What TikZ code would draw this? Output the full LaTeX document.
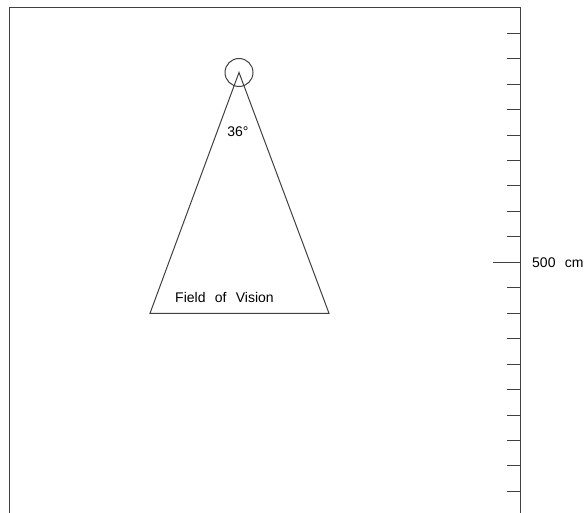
\documentclass[tikz,border=0pt]{standalone}
\usepackage{fontspec}
\setmainfont{Liberation Sans}
\newfontfamily\labelfont[WordSpace=2.4]{Liberation Sans}
\definecolor{FrameGray}{RGB}{64,64,64}
\usetikzlibrary{positioning}

\begin{document}
\begin{tikzpicture}[x=1pt, y=-1pt,
    line/.style={draw=FrameGray, line width=1pt},
    lbl/.style={font=\labelfont\fontsize{14}{16}\selectfont, inner sep=0pt}
  ]
    \useasboundingbox (0,0) rectangle (586,513);

    % Frame (open at the bottom)
    \draw[line] (9,513) -- (9,7.5) -- (520,7.5) -- (520,513);

    % Scale ticks
    \foreach \k in {0,...,18} {
      \pgfmathsetmacro{\ty}{33.3+25.45*\k}
      \ifnum\k=9
        \draw[line] (493,\ty) -- (520,\ty);
      \else
        \draw[line] (506.5,\ty) -- (520,\ty);
      \fi
    }
    \node[lbl, anchor=west] (scale) at (532,262.4) {500 cm};

    % Observer
    \node[line, circle, minimum size=28pt, inner sep=0pt] (eye) at (239,72.5) {};
    \coordinate (apex) at (239,72.5);
    \coordinate (baseL) at (150,313.3);
    \coordinate (baseR) at (329,313.3);

    % Field of vision
    \draw[line] (apex) -- (baseL) -- (baseR) -- cycle;
    \node[lbl] (angle) at (238,132) {36°};
    \node[lbl] (fov) at (224.5,297.5) {Field of Vision};
  \end{tikzpicture}
\end{document}
